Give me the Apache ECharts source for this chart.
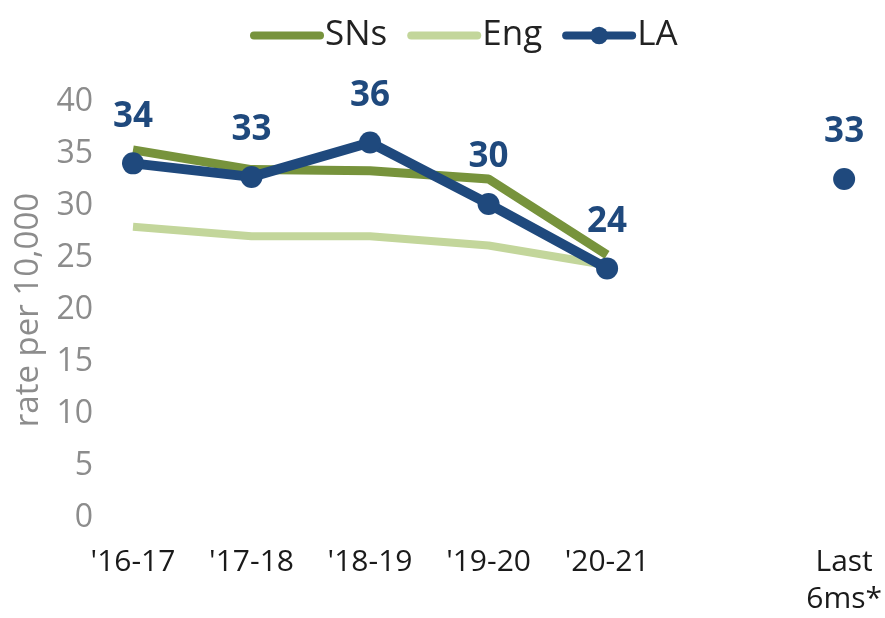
<!DOCTYPE html>
<html>
<head>
<meta charset="utf-8">
<script src="https://cdn.jsdelivr.net/npm/echarts@6/dist/echarts.min.js"></script>
<style>
html,body{margin:0;padding:0;background:#fff;}
#chart{width:885px;height:618px;}
</style>
</head>
<body>
<div id="chart"></div>
<script>
var categories = ["'16-17", "'17-18", "'18-19", "'19-20", "'20-21", "", "Last\n6ms*"];
var snsValues = [35.4, 33.5, 33.4, 32.6, 25.3, null, null];
var engValues = [28.0, 27.1, 27.1, 26.2, 24.3, null, null];
var laValues = [34.1, 32.8, 36.1, 30.2, 24.0, null, 32.6];
var yTicks = [0, 5, 10, 15, 20, 25, 30, 35, 40];

var FONT = '"Open Sans", "Noto Sans", sans-serif';
var C_SNS = '#77933C', C_ENG = '#C3D69B', C_LA = '#1F497D';

var chart = echarts.init(document.getElementById('chart'), null, {renderer: 'canvas'});
chart.setOption({
  animation: false,
  textStyle: {fontFamily: FONT},
  legend: {
    left: 245,
    top: 13,
    itemWidth: 66,
    itemHeight: 22,
    itemGap: 20,
    lineStyle: {width: 8, cap: 'round'},
    textStyle: {fontSize: 35, color: '#222', fontFamily: FONT},
    data: [
      {name: 'SNs', itemStyle: {opacity: 0}},
      {name: 'Eng', itemStyle: {opacity: 0}},
      {name: 'LA'}
    ]
  },
  grid: {left: 133, right: 37, top: 102, bottom: 98, containLabel: false},
  xAxis: {
    type: 'category',
    data: categories,
    boundaryGap: false,
    axisLine: {show: false},
    axisTick: {show: false},
    splitLine: {show: false},
    axisLabel: {
      interval: 0, margin: 26, fontSize: 30, lineHeight: 37,
      color: '#1a1a1a', fontFamily: FONT
    }
  },
  yAxis: {
    type: 'value',
    min: yTicks[0],
    max: yTicks[yTicks.length - 1],
    interval: yTicks[1] - yTicks[0],
    name: 'rate per 10,000',
    nameLocation: 'middle',
    nameGap: 88,
    nameTextStyle: {fontSize: 33, color: '#8c8c8c', fontFamily: FONT},
    axisLine: {show: false},
    axisTick: {show: false},
    splitLine: {show: false},
    axisLabel: {margin: 40, fontSize: 32, color: '#8c8c8c', fontFamily: FONT}
  },
  series: [
    {
      name: 'SNs', type: 'line', data: snsValues, symbol: 'none',
      lineStyle: {color: C_SNS, width: 9}, itemStyle: {color: C_SNS}, z: 2
    },
    {
      name: 'Eng', type: 'line', data: engValues, symbol: 'none',
      lineStyle: {color: C_ENG, width: 8}, itemStyle: {color: C_ENG}, z: 1
    },
    {
      name: 'LA', type: 'line', data: laValues, symbol: 'circle', symbolSize: 22,
      connectNulls: false,
      lineStyle: {color: C_LA, width: 10}, itemStyle: {color: C_LA}, z: 3,
      label: {
        show: true, position: 'top', distance: 18,
        fontSize: 35, fontWeight: 'bold', color: C_LA, fontFamily: FONT,
        formatter: function (p) { return Math.round(p.value); }
      }
    }
  ]
});
</script>
</body>
</html>
